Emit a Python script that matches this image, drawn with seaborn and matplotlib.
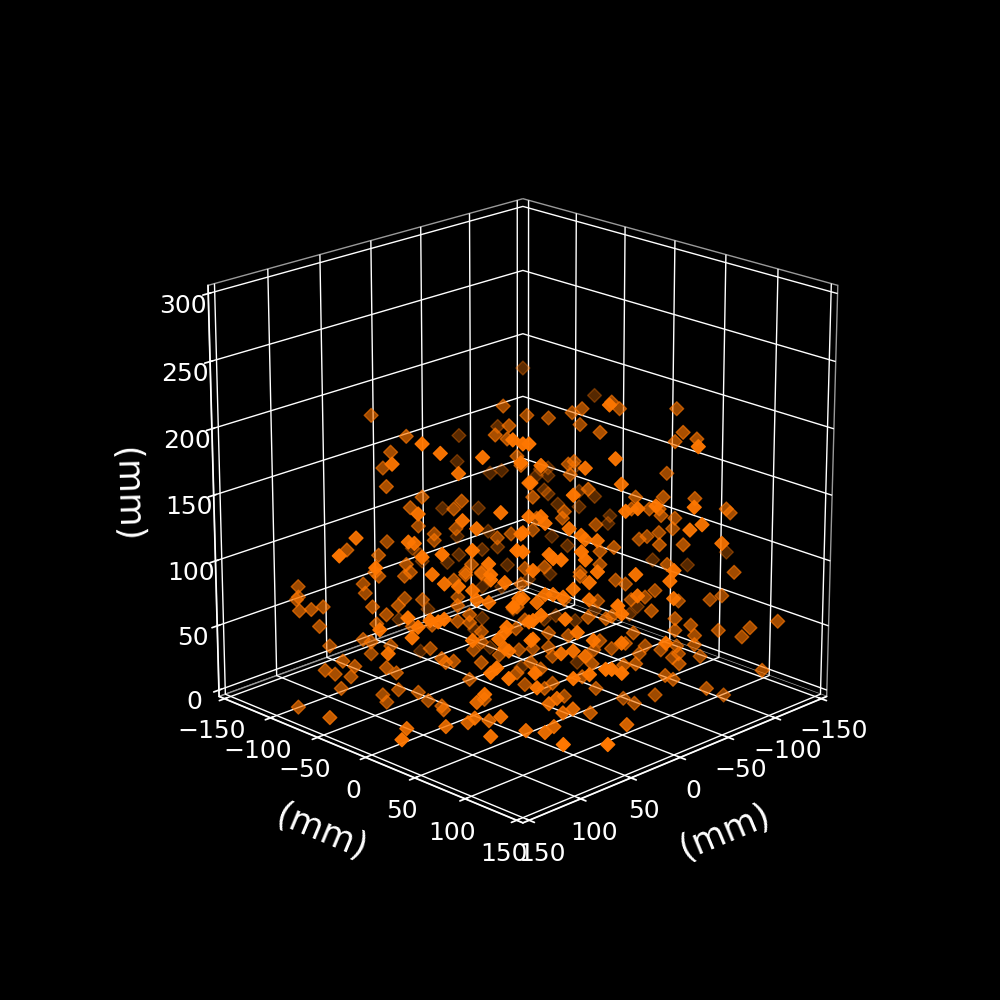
import numpy as np
import matplotlib.pyplot as plt
import seaborn as sns

# point cloud, values (mm)
x_vals = [
    52,-65,-15,-27,-8,-102,-28,-70,-55,-50,-74,-38,-54,-103,
    44,75,66,-22,52,90,56,-21,57,45,64,-38,-44,-42,-1,-7,30,25,22,-12,26,-14,22,-54,-96,-92,-62,-103,-21,16,-6,-38,-41,-82,-68,-64,-39,21,-62,-68,-24,-88,
    46,52,-3,26,30,65,46,-22,87,48,58,-27,29,40,118,64,-11,40,92,89,
    8,1,36,32,-38,10,-74,-82,-56,-58,-10,-63,-74,-62,-22,-16,-60,-31,-76,-69,
    -74,-75,-50,-92,-108,-110,-54,-82,-48,-81,26,24,-12,-26,-25,12,-90,-89,-42,6,
    4,-2,-10,35,-60,-64,-68,-74,-64,-76,-64,
    48,94,136,22,95,85,70,-22,-14,-2,78,118,62,18,17,4,64,31,-27,4,
    90,34,26,61,80,62,-58,32,30,26,16,14,-34,-41,45,-102,-68,-30,-120,-11,
    40,-6,8,-34,-24,-102,-140,119,119,120,86,85,65,56,38,70,68,62,-14,61,
    26,54,-24,47,6,84,40,77,34,65,78,-42,-47,-62,-12,-57,-50,-30,-74,-90,
    -96,-28,12,-33,30,34,25,-16,20,-24,12,-49,-38,45,38,
    128,122,116,118,113,91,84,78,112,39,89,126,96,92,82,122,92,28,62,40,
    67,64,63,18,64,62,17,-8,36,80,36,0,42,42,-4,48,94,97,101,61,
    107,110,71,24,48,60,18,-20,14,51,27,8,6,-84,-50,-80,-62,-18,-27,-30,
    -62,-70,-84,-100,-96,-114,-62,-72,-41,-16,-72,-63,-55,-47,-44,-64,-61,-30,6,-37,
    -24,20,-21,24,30,36,0,2,28,-52,-8,2,50,10,34,-42,-36,46,50,52,
    66,64,60,46,116,110,125,120,112,94,89,117,96,88,78,52,84,24,72,28,
    81,78,-14,-96,-47,-51,-68,-42,-12,14,10,58,59,16,21,40,-5,32,24,21,
    16,-26,-10,-43,-32,-75,-54,-82,
    146,143,95,72,72,76,118,134,96,42,78,84,80,67,76,86,61,38,60,6,
    30,35,38,4,42,42,54,3,-30,-29,
]
y_vals = [
    -102,-65,-35,-23,-22,-28,58,20,5,0,24,-12,4,53,
    -74,-25,-16,-88,-82,-40,-86,-89,-7,5,-74,-72,-66,-68,-29,-23,20,25,28,-18,24,-16,28,24,66,62,112,73,71,34,56,8,11,-28,-42,-46,9,29,-48,-42,74,58,
    -56,-62,-86,-36,-40,5,24,-68,-17,-58,12,-63,-39,-50,-48,-74,-79,-50,-22,-19,
    -18,-11,34,38,28,60,-16,-8,-34,-32,0,-27,-16,52,92,86,50,101,66,59,
    64,65,120,82,98,100,124,72,118,71,44,46,2,16,15,58,0,-1,32,64,
    66,72,0,35,-30,54,58,64,134,86,74,
    42,-84,-46,-92,-5,5,20,-48,-56,-68,-68,-28,28,-88,-87,-74,-54,-21,-43,6,
    0,-24,-16,29,-70,-52,-12,58,60,64,74,76,44,51,45,32,78,120,50,101,
    50,16,82,44,34,112,70,-109,-109,-110,-76,-75,-55,-46,-28,20,22,28,-56,29,
    -16,36,-46,43,4,6,-30,13,-24,-55,-68,52,57,72,102,67,60,120,84,100,
    106,118,78,43,60,56,65,26,70,34,78,-21,-32,45,52,
    -98,-92,-86,-88,-83,-61,-54,-48,-2,-89,-59,-16,-66,-62,-52,-12,-62,-78,-32,-10,
    43,46,47,11,46,48,13,-42,-6,30,-6,-50,-12,-12,-46,-18,16,13,9,-31,
    3,0,-41,-74,-18,50,12,-30,16,59,3,102,104,34,80,30,12,48,57,60,
    92,100,114,130,126,144,92,102,71,126,102,93,85,77,74,94,91,60,104,67,
    54,90,51,86,80,74,30,28,82,2,38,28,60,20,76,-8,-14,64,60,58,
    -16,-14,-10,4,-66,-60,-75,-70,-62,-44,-39,-67,-46,-38,-28,-2,46,26,58,22,
    49,52,-16,146,97,101,118,92,62,36,40,72,71,34,29,90,55,98,106,109,
    114,76,60,13,82,105,104,122,
    -81,-51,-43,-24,-10,-4,2,14,19,3,32,36,25,33,54,54,64,122,100,74,
    80,75,72,46,68,73,76,107,72,84,
]
z_vals = [
    198,215,205,198,195,194,225,208,203,200,203,196,191,203,
    187,201,194,168,175,186,163,148,179,191,154,139,141,175,188,185,204,201,201,172,187,165,172,190,190,183,199,185,190,185,183,166,168,144,143,142,158,172,137,137,171,159,
    146,138,117,143,137,149,155,117,154,124,143,99,122,118,136,112,95,113,133,132,
    115,118,139,152,152,168,130,126,131,128,146,120,118,146,158,156,137,160,146,137,
    137,132,159,145,137,134,146,130,142,122,152,147,130,135,130,143,111,105,125,138,
    135,134,121,140,95,114,116,119,132,115,115,
    132,111,128,91,127,129,132,92,90,86,107,119,122,86,81,80,100,100,78,97,
    114,94,94,114,94,94,93,129,126,125,131,125,110,113,131,82,100,117,78,114,
    117,98,116,100,94,94,88,83,75,73,85,78,74,73,75,102,95,93,61,110,
    93,108,61,96,85,107,88,105,92,91,91,88,85,80,98,75,73,96,72,73,
    76,109,95,72,99,99,97,73,103,91,108,71,67,96,93,
    70,71,73,58,43,73,67,74,87,41,60,78,48,46,43,60,37,16,41,40,
    71,76,80,56,64,62,40,19,46,70,54,33,61,67,42,62,86,84,85,59,
    80,72,58,49,74,95,73,49,63,70,36,96,90,51,70,45,48,65,64,66,
    64,59,55,57,50,62,55,51,53,68,44,43,40,43,37,37,34,41,68,45,
    47,70,40,58,62,60,35,42,76,40,51,53,71,41,86,44,41,89,85,84,
    39,36,37,36,37,33,30,27,25,32,28,16,11,15,13,23,35,19,47,28,
    51,55,9,30,26,23,16,11,16,16,20,40,51,31,36,47,25,50,54,54,
    51,34,35,13,35,35,35,8,
    6,6,6,6,6,6,6,6,6,6,23,14,6,6,18,6,6,6,6,6,
    18,15,26,10,22,6,6,6,6,6,
]
ticks_xy = [-150, -100, -50, 0, 50, 100, 150]
ticks_z = [0, 50, 100, 150, 200, 250, 300]

sns.set_theme(style="dark")
plt.style.use("dark_background")

fig = plt.figure(figsize=(10, 10), dpi=100, facecolor="black")
ax = fig.add_subplot(projection="3d", facecolor="black")
ax.scatter(x_vals, y_vals, z_vals, marker="D", s=50, color="#ff7700")
ax.view_init(elev=20, azim=45)
ax.set_box_aspect((1, 1, 1), zoom=0.955)
ax.set_xlim(-156, 156)
ax.set_ylim(-156, 156)
ax.set_zlim(-5, 306)
ax.set_xticks(ticks_xy)
ax.set_yticks(ticks_xy)
ax.set_zticks(ticks_z)
ax.tick_params(labelsize=18, colors="white")
for a in (ax.xaxis, ax.yaxis, ax.zaxis):
    a.set_pane_color((0, 0, 0, 1))
    a.pane.set_edgecolor("#999999")
    a._axinfo["grid"]["color"] = "white"
    a._axinfo["grid"]["linewidth"] = 1
    a.set_rotate_label(True)
ax.set_xlabel("(mm)", fontsize=25, labelpad=19, color="white")
ax.set_ylabel("(mm)", fontsize=25, labelpad=19, color="white")
ax.set_zlabel("(mm)", fontsize=25, labelpad=20, color="white")
fig.savefig("out.png", dpi=100, facecolor="black")
